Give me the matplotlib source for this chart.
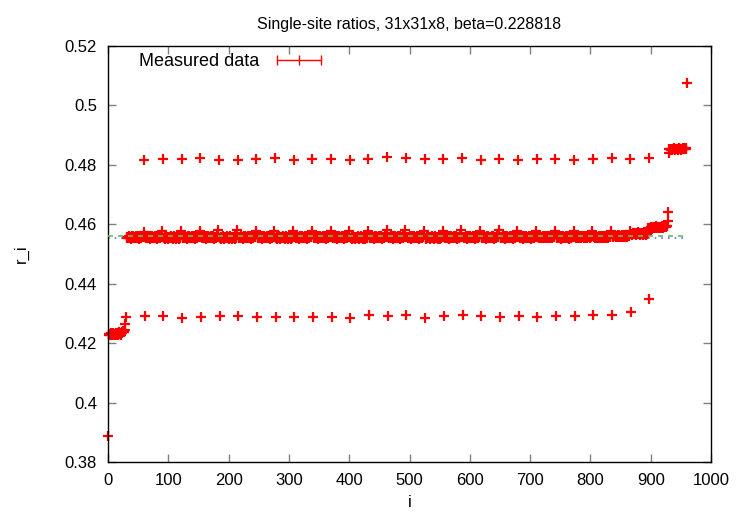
import matplotlib
matplotlib.use("Agg")
import matplotlib.pyplot as plt
from matplotlib.lines import Line2D
import numpy as np

# --- data (31x31 sites, i = 0..960) ---
row_len = 31

# first row of sites (i = 0..30)
first_row = [0.3886, 0.4228, 0.4232, 0.4226, 0.4230, 0.4233, 0.4229, 0.4231,
             0.4227, 0.4234, 0.4230, 0.4228, 0.4232, 0.4229, 0.4235, 0.4231,
             0.4227, 0.4233, 0.4230, 0.4236, 0.4232, 0.4229, 0.4234, 0.4238,
             0.4235, 0.4240, 0.4237, 0.4242, 0.4245, 0.4265, 0.4287]

# rows 1..28: plateau level of each row
band_level = [0.4556, 0.4556, 0.4555, 0.4556, 0.4556, 0.4555, 0.4556,
              0.4556, 0.4555, 0.4556, 0.4556, 0.4556, 0.4555, 0.4556,
              0.4556, 0.4556, 0.4555, 0.4556, 0.4556, 0.4556, 0.4556,
              0.4556, 0.4557, 0.4556, 0.4557, 0.4557, 0.4560, 0.4568]
# scatter of sites 0..27 inside a row around the plateau
band_profile = [0.0000, -0.0003, 0.0002, -0.0001, 0.0004, -0.0002, 0.0001,
                -0.0004, 0.0003, 0.0000, -0.0002, 0.0005, -0.0001, 0.0002,
                -0.0003, 0.0001, 0.0004, -0.0002, 0.0000, 0.0003, -0.0004,
                0.0001, -0.0001, 0.0002, -0.0003, 0.0004, 0.0000, 0.0002]
# last three sites of rows 1..28
bump_vals = [0.4575, 0.4576, 0.4578, 0.4578, 0.4580, 0.4581, 0.4578,
             0.4577, 0.4579, 0.4578, 0.4576, 0.4577, 0.4577, 0.4580,
             0.4580, 0.4577, 0.4578, 0.4581, 0.4577, 0.4580, 0.4578,
             0.4579, 0.4577, 0.4578, 0.4577, 0.4579, 0.4579, 0.4588]
high_vals = [0.4816, 0.4820, 0.4821, 0.4823, 0.4816, 0.4816, 0.4819,
             0.4822, 0.4818, 0.4820, 0.4820, 0.4818, 0.4819, 0.4826,
             0.4824, 0.4821, 0.4820, 0.4824, 0.4818, 0.4820, 0.4817,
             0.4820, 0.4819, 0.4816, 0.4820, 0.4822, 0.4819, 0.4822]
low_vals = [0.4290, 0.4291, 0.4285, 0.4287, 0.4290, 0.4290, 0.4288,
            0.4289, 0.4287, 0.4287, 0.4287, 0.4285, 0.4294, 0.4290,
            0.4294, 0.4285, 0.4293, 0.4295, 0.4293, 0.4287, 0.4290,
            0.4289, 0.4291, 0.4292, 0.4294, 0.4296, 0.4306, 0.4348]

# row 29 (i = 899..929)
row29 = [0.4586, 0.4589, 0.4591, 0.4588, 0.4590, 0.4592, 0.4589, 0.4591,
         0.4588, 0.4590, 0.4593, 0.4589, 0.4591, 0.4590, 0.4588, 0.4592,
         0.4590, 0.4591, 0.4589, 0.4593, 0.4590, 0.4592, 0.4589, 0.4591,
         0.4594, 0.4590, 0.4592, 0.4595, 0.4593, 0.4612, 0.4640]
# row 30 (i = 930..960)
row30 = [0.4841, 0.4852, 0.4854, 0.4851, 0.4855, 0.4853, 0.4850, 0.4854,
         0.4852, 0.4856, 0.4853, 0.4851, 0.4855, 0.4852, 0.4854, 0.4850,
         0.4853, 0.4856, 0.4852, 0.4854, 0.4851, 0.4855, 0.4853, 0.4857,
         0.4852, 0.4854, 0.4856, 0.4853, 0.4858, 0.4855, 0.5074]

# two fitted constants
fit_green = 0.4561
fit_blue = 0.4555
fit_range = [0, 960]

# assemble r_i
r = list(first_row)
for m in range(len(band_level)):
    r += [band_level[m] + d for d in band_profile]
    r += [bump_vals[m], high_vals[m], low_vals[m]]
r += row29 + row30
i = np.arange(len(r))

plt.rcParams['font.family'] = ['Liberation Sans', 'DejaVu Sans']

fig = plt.figure(figsize=(7.36, 5.15), dpi=100)
ax = fig.add_axes([108 / 736, 1 - 462 / 515, 603 / 736, 416 / 515])

ax.plot(fit_range, [fit_blue, fit_blue], color='#6a6aff', linestyle=(0, (1, 3)),
        linewidth=1.2, zorder=1)
ax.plot(i, r, linestyle='none', marker='+', color='red', markersize=6.5,
        markeredgewidth=1.6, zorder=2, clip_on=False)
ax.plot(fit_range, [fit_green, fit_green], color='#5cbf5c', linestyle=(0, (3, 3)),
        linewidth=1.2, zorder=3)

ax.set_xlim(0, 1000)
ax.set_ylim(0.38, 0.52)
ax.set_xticks(np.arange(0, 1001, 100))
ax.set_yticks(np.arange(0.38, 0.521, 0.02))
ax.set_yticklabels(['0.38', '0.4', '0.42', '0.44', '0.46', '0.48', '0.5', '0.52'])
ax.tick_params(direction='in', length=6, width=1, color='#808080',
               top=True, right=True, labelsize=12, pad=8)
for s in ax.spines.values():
    s.set_color('black')
    s.set_linewidth(1)

ax.set_title('Single-site ratios, 31x31x8, beta=0.228818', fontsize=11.5, pad=12)
ax.set_xlabel('i', fontsize=12, labelpad=5)
ax.set_ylabel('r_i', fontsize=12, labelpad=26)

handle = Line2D([], [], color='red', linewidth=1, marker='|', markersize=7,
                markeredgewidth=1)
ax.legend([handle], ['Measured data'], loc='upper left', numpoints=3,
          bbox_to_anchor=(139 / 736, 1 - 53 / 515), bbox_transform=fig.transFigure,
          frameon=False, borderpad=0, borderaxespad=0, markerfirst=False,
          handlelength=3.0, handletextpad=0.7, fontsize=13)

fig.savefig('out.png', dpi=100)
